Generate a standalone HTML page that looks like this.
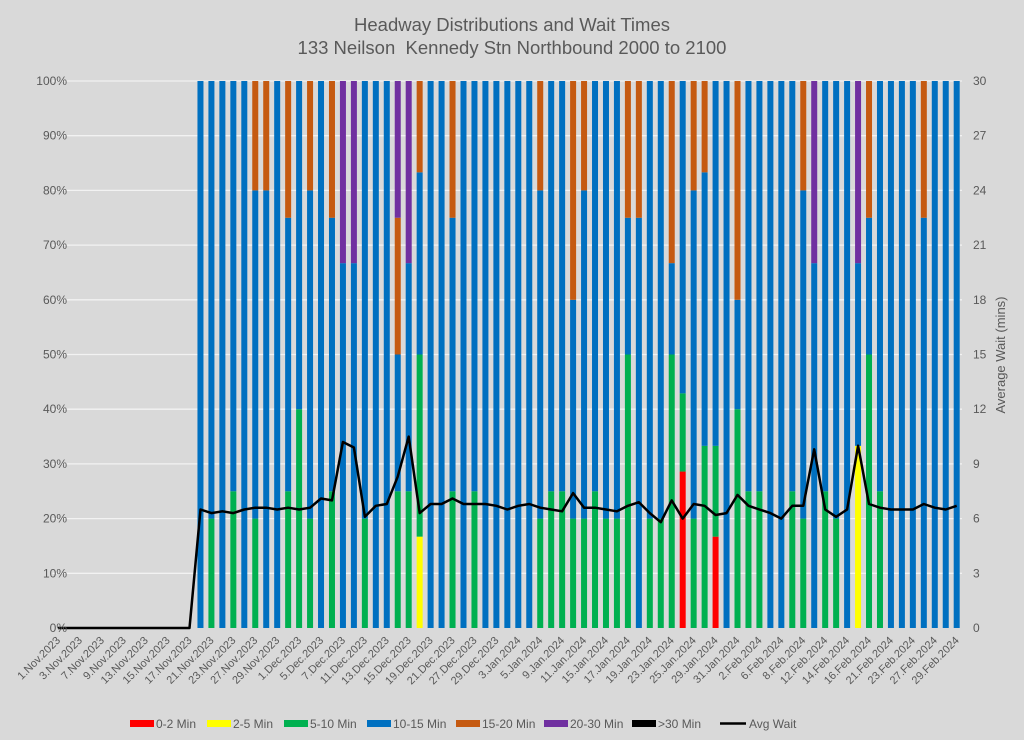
<!DOCTYPE html>
<html><head><meta charset="utf-8"><style>
html,body{margin:0;padding:0;background:#d9d9d9;}
svg{display:block;font-family:"Liberation Sans",sans-serif;}
</style></head><body>
<svg id="chart" width="1024" height="740" viewBox="0 0 1024 740" xmlns="http://www.w3.org/2000/svg">
<rect x="0" y="0" width="1024" height="740" fill="#d9d9d9"/>
<text x="512" y="31" text-anchor="middle" font-size="18.5" fill="#595959">Headway Distributions and Wait Times</text>
<text x="512" y="54" text-anchor="middle" font-size="18.5" fill="#595959" xml:space="preserve">133 Neilson  Kennedy Stn Northbound 2000 to 2100</text>
<g id="grid"></g><g id="bars"></g><g id="line"></g><g id="axes"></g><g id="legend"></g>
</svg>
<script>
const categories = ["1.Nov.2023","2.Nov.2023","3.Nov.2023","6.Nov.2023","7.Nov.2023","8.Nov.2023","9.Nov.2023","10.Nov.2023","13.Nov.2023","14.Nov.2023","15.Nov.2023","16.Nov.2023","17.Nov.2023","20.Nov.2023","21.Nov.2023","22.Nov.2023","23.Nov.2023","24.Nov.2023","27.Nov.2023","28.Nov.2023","29.Nov.2023","30.Nov.2023","1.Dec.2023","4.Dec.2023","5.Dec.2023","6.Dec.2023","7.Dec.2023","8.Dec.2023","11.Dec.2023","12.Dec.2023","13.Dec.2023","14.Dec.2023","15.Dec.2023","18.Dec.2023","19.Dec.2023","20.Dec.2023","21.Dec.2023","22.Dec.2023","27.Dec.2023","28.Dec.2023","29.Dec.2023","2.Jan.2024","3.Jan.2024","4.Jan.2024","5.Jan.2024","8.Jan.2024","9.Jan.2024","10.Jan.2024","11.Jan.2024","12.Jan.2024","15.Jan.2024","16.Jan.2024","17.Jan.2024","18.Jan.2024","19.Jan.2024","22.Jan.2024","23.Jan.2024","24.Jan.2024","25.Jan.2024","26.Jan.2024","29.Jan.2024","30.Jan.2024","31.Jan.2024","1.Feb.2024","2.Feb.2024","5.Feb.2024","6.Feb.2024","7.Feb.2024","8.Feb.2024","9.Feb.2024","12.Feb.2024","13.Feb.2024","14.Feb.2024","15.Feb.2024","16.Feb.2024","20.Feb.2024","21.Feb.2024","22.Feb.2024","23.Feb.2024","26.Feb.2024","27.Feb.2024","28.Feb.2024","29.Feb.2024"];
const Z13 = [0,0,0,0,0,0,0,0,0,0,0,0,0];
const s0_2 = Z13.concat([0,0,0,0,0,0,0,0,0,0,0,0,0,0,0,0,0,0,0,0,0,0,0,0,0,0,0,0,0,0,0,0,0,0,0,0,0,0,0,0,0,0,0,0,28.6,0,0,16.7,0,0,0,0,0,0,0,0,0,0,0,0,0,0,0,0,0,0,0,0,0,0]);
const s2_5 = Z13.concat([0,0,0,0,0,0,0,0,0,0,0,0,0,0,0,0,0,0,0,0,16.7,0,0,0,0,0,0,0,0,0,0,0,0,0,0,0,0,0,0,0,0,0,0,0,0,0,0,0,0,0,0,0,0,0,0,0,0,0,0,0,33.3,0,0,0,0,0,0,0,0,0]);
const s5_10 = Z13.concat([0,20,0,25,0,20,0,0,25,40,20,0,25,0,0,20,0,0,25,25,33.3,0,0,25,0,25,0,0,0,0,0,20,25,25,20,20,25,20,20,50,0,20,20,50,14.3,20,33.3,16.6,0,40,25,25,0,0,25,20,0,25,20,0,0,50,25,0,0,0,0,0,0,0]);
const s10_15 = Z13.concat([100,80,100,75,100,60,80,100,50,60,60,100,50,66.7,66.7,80,100,100,25,41.7,33.3,100,100,50,100,75,100,100,100,100,100,60,75,75,40,60,75,80,80,25,75,80,80,16.7,57.1,60,50,66.7,100,20,75,75,100,100,75,60,66.7,75,80,100,33.4,25,75,100,100,100,75,100,100,100]);
const s15_20 = Z13.concat([0,0,0,0,0,20,20,0,25,0,20,0,25,0,0,0,0,0,25,0,16.7,0,0,25,0,0,0,0,0,0,0,20,0,0,40,20,0,0,0,25,25,0,0,33.3,0,20,16.7,0,0,40,0,0,0,0,0,20,0,0,0,0,0,25,0,0,0,0,25,0,0,0]);
const s20_30 = Z13.concat([0,0,0,0,0,0,0,0,0,0,0,0,0,33.3,33.3,0,0,0,25,33.3,0,0,0,0,0,0,0,0,0,0,0,0,0,0,0,0,0,0,0,0,0,0,0,0,0,0,0,0,0,0,0,0,0,0,0,0,33.3,0,0,0,33.3,0,0,0,0,0,0,0,0,0]);
const s30p = Z13.concat([0,0,0,0,0,0,0,0,0,0,0,0,0,0,0,0,0,0,0,0,0,0,0,0,0,0,0,0,0,0,0,0,0,0,0,0,0,0,0,0,0,0,0,0,0,0,0,0,0,0,0,0,0,0,0,0,0,0,0,0,0,0,0,0,0,0,0,0,0,0]);
const avgWait = Z13.concat([6.5,6.3,6.4,6.3,6.5,6.6,6.6,6.5,6.6,6.5,6.6,7.1,7.0,10.2,9.9,6.1,6.7,6.8,8.3,10.5,6.3,6.8,6.8,7.1,6.8,6.8,6.8,6.7,6.5,6.7,6.8,6.6,6.5,6.4,7.4,6.6,6.6,6.5,6.4,6.7,6.9,6.3,5.8,7.0,6.0,6.8,6.7,6.2,6.3,7.3,6.7,6.5,6.3,6.0,6.7,6.7,9.8,6.5,6.1,6.5,10.0,6.8,6.6,6.5,6.5,6.5,6.8,6.6,6.5,6.7]);
const leftTicks = ["0%","10%","20%","30%","40%","50%","60%","70%","80%","90%","100%"];
const rightTicks = [0,3,6,9,12,15,18,21,24,27,30];
const seriesNames = ["0-2 Min","2-5 Min","5-10 Min","10-15 Min","15-20 Min","20-30 Min",">30 Min"];
const seriesColors = ["#ff0000","#ffff00","#00b050","#0070c0","#c55a11","#7030a0","#000000"];
const seriesData = [s0_2,s2_5,s5_10,s10_15,s15_20,s20_30,s30p];

const NS="http://www.w3.org/2000/svg";
const X0=52.5, STEP=10.96, Y0=628, Y1=81, XEND=962;
function xPos(i){return X0+STEP*(i+0.5);}
function yPct(v){return Y0-(Y0-Y1)*v/100;}
function yWait(v){return Y0-(Y0-Y1)*v/30;}
function mk(tag,attrs,parent){const e=document.createElementNS(NS,tag);for(const k in attrs)e.setAttribute(k,attrs[k]);parent.appendChild(e);return e;}
const grid=document.getElementById('grid'),bars=document.getElementById('bars'),lineG=document.getElementById('line'),axes=document.getElementById('axes'),legend=document.getElementById('legend');

leftTicks.forEach((t,i)=>{
  const y=yPct(i*10);
  if(i>0){const g=mk('line',{x1:X0,x2:XEND,y1:y,y2:y,stroke:'#f2f2f2','stroke-width':1.3},grid);
  
  }
  const tx=mk('text',{x:67,y:y+4,'text-anchor':'end','font-size':12,fill:'#595959'},axes);tx.textContent=t;
  
  
});
rightTicks.forEach(v=>{
  const tx=mk('text',{x:973,y:yWait(v)+4,'font-size':12,fill:'#595959'},axes);tx.textContent=v;
  
  
});
const yt=mk('text',{x:1005,y:355,'text-anchor':'middle','font-size':13,fill:'#595959',transform:'rotate(-90 1005 355)'},axes);
yt.textContent='Average Wait (mins)';



categories.forEach((c,i)=>{
  let acc=0;
  seriesData.forEach((s,k)=>{
    const v=s[i];if(!v)return;
    const yA=yPct(acc+v),yB=yPct(acc);acc+=v;
    const r=mk('rect',{x:xPos(i)-3,y:yA,width:6,height:yB-yA,fill:seriesColors[k]},bars);
    
    
  });
  if(i%2===0){
    const x=xPos(i)+3,y=641;
    const tx=mk('text',{x:x,y:y,'text-anchor':'end','font-size':11,fill:'#595959',transform:'rotate(-45 '+x+' '+y+')'},axes);
    tx.textContent=c;
    
    
  }
});
const pts=avgWait.map((v,i)=>xPos(i).toFixed(1)+','+yWait(v).toFixed(1)).join(' ');
const pl=mk('polyline',{points:pts,fill:'none',stroke:'#000','stroke-width':2.5,'stroke-linejoin':'round'},lineG);



const legX=[130,207,284,367,456,544,632];
seriesNames.forEach((n,k)=>{
  const g=mk('g',{},legend);
  
  
  mk('rect',{x:legX[k],y:720,width:24,height:7,fill:seriesColors[k]},g);
  const t=mk('text',{x:legX[k]+26,y:728,'font-size':12,fill:'#595959'},g);t.textContent=n;
});
const g2=mk('g',{},legend);


mk('line',{x1:720,x2:746,y1:723.5,y2:723.5,stroke:'#000','stroke-width':2.5},g2);
const t2=mk('text',{x:749,y:728,'font-size':12,fill:'#595959'},g2);t2.textContent='Avg Wait';
</script>
</body></html>
